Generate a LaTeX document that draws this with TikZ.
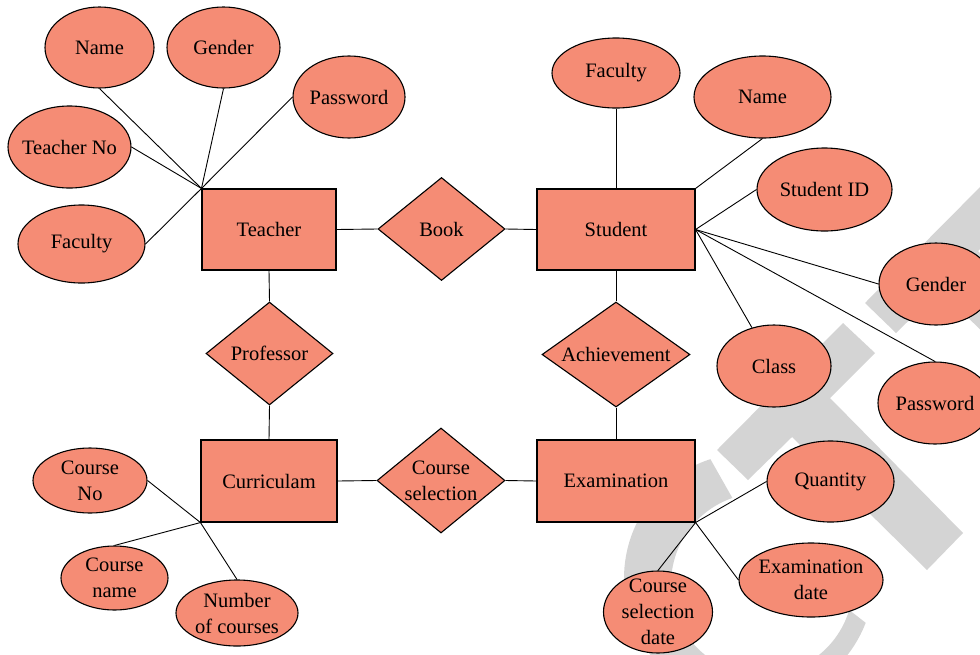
\documentclass[tikz,border=0pt]{standalone}
\usepackage{fontspec}
\setmainfont{Liberation Serif}
\usetikzlibrary{shapes.geometric}
\definecolor{erfill}{RGB}{245,140,117}
\definecolor{wmgray}{RGB}{212,212,212}
\begin{document}
\begin{tikzpicture}[x=1pt,y=-1pt,
  base/.style={draw=black,fill=erfill,line width=1.1pt,inner sep=0pt,
    font=\fontsize{20.5}{26}\selectfont,align=center,text=black},
  entity/.style={base,rectangle},
  relation/.style={base,diamond,shape aspect=1.3},
  attr/.style={base,ellipse,inner sep=-8pt},
  link/.style={draw=black,line width=0.9pt}]
\useasboundingbox (0,0) rectangle (980,654);
\clip (0,0) rectangle (980,654);

% light grey lettering in the background
\fill[wmgray] plot[domain=-108:-339,samples=80] ({749+125*cos(\x)},{578+125*sin(\x)})
  -- plot[domain=-343.4:-109,samples=80] ({762+91*cos(\x)},{584+91*sin(\x)}) -- cycle;
\fill[wmgray] (717,450) -- (843,323) -- (875,353) -- (830,398) -- (963,533)
  -- (927,570) -- (792,437) -- (748,480) -- cycle;
\fill[wmgray] (865,303) -- (991,176) -- (1023,206) -- (978,251) -- (1111,386)
  -- (1075,423) -- (940,290) -- (896,333) -- cycle;

% entities
\node[entity,minimum width=134pt,minimum height=81pt] (teacher) at (269,229.5) {Teacher};
\node[entity,minimum width=158pt,minimum height=81pt] (student) at (616,229.5) {Student};
\node[entity,minimum width=136pt,minimum height=82pt] (curr) at (269,481) {Curriculam};
\node[entity,minimum width=158pt,minimum height=82pt] (exam) at (616,481) {Examination};

% relationships
\node[relation,minimum width=127pt,minimum height=103pt] (book) at (441.5,229) {Book};
\node[relation,minimum width=127pt,minimum height=103pt] (prof) at (269.5,353.5) {Professor};
\node[relation,minimum width=148pt,minimum height=105pt] (achv) at (616,354.5) {Achievement};
\node[relation,minimum width=128pt,minimum height=105pt] (csel) at (441,480.5) {Course\\selection};

% teacher attributes
\node[attr,minimum width=109pt,minimum height=81pt] (tname) at (99.5,47.5) {Name};
\node[attr,minimum width=113pt,minimum height=81pt] (tgender) at (223.5,47.5) {Gender};
\node[attr,minimum width=112pt,minimum height=82pt] (tpass) at (349,97) {Password};
\node[attr,minimum width=123pt,minimum height=82pt] (tno) at (69.5,147) {Teacher No};
\node[attr,minimum width=127pt,minimum height=78pt] (tfac) at (81.5,244) {Faculty};

% student attributes
\node[attr,minimum width=128pt,minimum height=70pt] (sfac) at (616,73) {Faculty};
\node[attr,minimum width=137pt,minimum height=82pt] (sname) at (762.5,97) {Name};
\node[attr,minimum width=135pt,minimum height=83pt] (sid) at (824.5,189.5) {Student ID};
\node[attr,minimum width=114pt,minimum height=82pt] (sgender) at (936,284) {Gender};
\node[attr,minimum width=114pt,minimum height=82pt] (sclass) at (774,366) {Class};
\node[attr,minimum width=114pt,minimum height=82pt] (spass) at (935,403) {Password};

% curriculum attributes
\node[attr,minimum width=114pt,minimum height=65pt] (cno) at (90,480.5) {Course\\No};
\node[attr,minimum width=107pt,minimum height=64pt] (cname) at (114.5,578) {Course\\name};
\node[attr,minimum width=122pt,minimum height=66pt] (cnum) at (237,613) {Number\\of courses};

% examination attributes
\node[attr,minimum width=127pt,minimum height=81pt] (quant) at (830.5,481.5) {Quantity};
\node[attr,minimum width=144pt,minimum height=74pt] (edate) at (811,580) {Examination\\date};
\node[attr,minimum width=109pt,minimum height=82pt] (csd) at (658,612) {Course\\selection\\date};

% relationship links
\draw[link] (teacher.east) -- (book.west);
\draw[link] (book.east) -- (student.west);
\draw[link] (teacher.south) -- (prof.north);
\draw[link] (prof.south) -- (curr.north);
\draw[link] (student.south) -- (achv.north);
\draw[link] (achv.south) -- (exam.north);
\draw[link] (curr.east) -- (csel.west);
\draw[link] (csel.east) -- (exam.west);

% attribute links
\draw[link] (tname.south) -- (teacher.north west);
\draw[link] (tgender.south) -- (teacher.north west);
\draw[link] (tpass.west) -- (teacher.north west);
\draw[link] (tno.east) -- (teacher.north west);
\draw[link] (tfac.east) -- (teacher.north west);

\draw[link] (sfac.south) -- (student.north);
\draw[link] (sname.south) -- (student.north east);
\draw[link] (sid.west) -- (student.east);
\draw[link] (sgender.west) -- (student.east);
\draw[link] (student.east) -- (sclass);
\draw[link] (spass.north) -- (student.east);

\draw[link] (cno.east) -- (curr.south west);
\draw[link] (cname.north) -- (curr.south west);
\draw[link] (cnum.north) -- (curr.south west);

\draw[link] (quant.west) -- (exam.south east);
\draw[link] (edate.west) -- (exam.south east);
\draw[link] (csd.north) -- (exam.south east);
\end{tikzpicture}
\end{document}
